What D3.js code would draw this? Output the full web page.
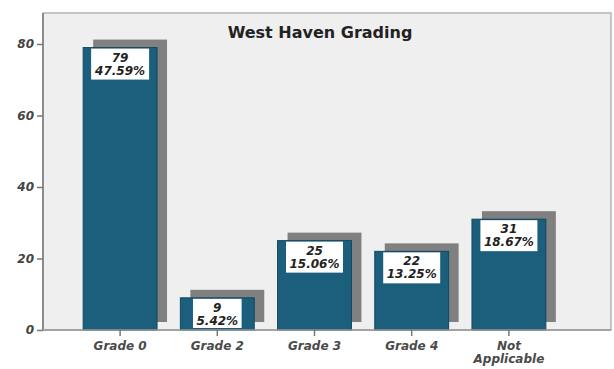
<!DOCTYPE html>
<html>
<head>
<meta charset="utf-8">
<script src="https://cdn.jsdelivr.net/npm/d3@7"></script>
<style>
  body { margin: 0; background: #fff; }
  svg { display: block; }
</style>
</head>
<body>
<svg id="chart" width="614" height="369"></svg>
<script>
// data
const categories = ['Grade 0', 'Grade 2', 'Grade 3', 'Grade 4', 'Not Applicable'];
const counts = [79, 9, 25, 22, 31];
const percents = ['47.59%', '5.42%', '15.06%', '13.25%', '18.67%'];
const yTicks = [0, 20, 40, 60, 80];
const title = 'West Haven Grading';

const svg = d3.select('#chart');
const font = '"DejaVu Sans", sans-serif';

// frame
const frame = { left: 43, top: 13, right: 611, bottom: 330 };
svg.append('rect')
  .attr('x', frame.left).attr('y', frame.top)
  .attr('width', frame.right - frame.left).attr('height', frame.bottom - frame.top)
  .attr('fill', '#efefef').attr('stroke', '#b4b4b4').attr('stroke-width', 1.5);

const x = d3.scaleBand().domain(categories)
  .range([71.5, 557.5]).paddingInner(0.24).paddingOuter(0.12);
const y = d3.scaleLinear().domain([0, 80]).range([330, 44]);

// shadows (offset right / up)
const shadowDx = 10;
const shadowDy = -8;
svg.append('g').selectAll('rect').data(counts).enter().append('rect')
  .attr('x', (d, i) => x(categories[i]) + shadowDx)
  .attr('y', d => y(d) + shadowDy)
  .attr('width', x.bandwidth())
  .attr('height', d => y(0) - y(d))
  .attr('fill', '#808080');

// bars
svg.append('g').selectAll('rect').data(counts).enter().append('rect')
  .attr('x', (d, i) => x(categories[i]))
  .attr('y', d => y(d))
  .attr('width', x.bandwidth())
  .attr('height', d => y(0) - y(d))
  .attr('fill', '#1c5f7d')
  .attr('stroke', '#124660')
  .attr('stroke-width', 1);

// value labels in white boxes
const labels = svg.append('g').selectAll('g').data(counts).enter().append('g');
labels.each(function (d, i) {
  const g = d3.select(this);
  const cx = x(categories[i]) + x.bandwidth() / 2;
  const top = y(d) + 1;
  const box = g.append('rect').attr('fill', '#fff');
  const t = g.append('text')
    .attr('text-anchor', 'middle')
    .attr('font-family', font).attr('font-size', 12)
    .attr('font-weight', 'bold').attr('font-style', 'italic')
    .attr('fill', '#222');
  t.append('tspan').attr('x', cx).attr('y', top + 13).text(d);
  t.append('tspan').attr('x', cx).attr('y', top + 26).text(percents[i]);
  const w = t.node().getBBox().width + 7;
  const h = Math.min(31, y(0) - top - 2);
  box.attr('x', cx - w / 2).attr('y', top).attr('width', w).attr('height', h);
});

// y axis
const yAxis = svg.append('g').attr('transform', `translate(${frame.left},0)`)
  .call(d3.axisLeft(y).tickValues(yTicks).tickSize(6).tickPadding(3));
yAxis.select('.domain').attr('stroke', '#8c8c8c').attr('stroke-width', 2)
  .attr('d', `M0,${frame.top}V${frame.bottom}`);
yAxis.selectAll('.tick line').attr('stroke', '#777').attr('stroke-width', 1.5);
yAxis.selectAll('.tick text')
  .attr('font-family', font).attr('font-size', 12)
  .attr('font-weight', 'bold').attr('font-style', 'italic').attr('fill', '#444');

// x axis
const xAxis = svg.append('g').attr('transform', `translate(0,${frame.bottom})`)
  .call(d3.axisBottom(x).tickSize(6).tickPadding(5));
xAxis.select('.domain').attr('stroke', '#999').attr('stroke-width', 1.5)
  .attr('d', `M${frame.left},0H${frame.right}`);
xAxis.selectAll('.tick line').attr('stroke', '#777').attr('stroke-width', 1.5);
xAxis.selectAll('.tick text')
  .attr('font-family', font).attr('font-size', 12)
  .attr('font-weight', 'bold').attr('font-style', 'italic').attr('fill', '#4a4a4a')
  .each(function (d) {
    const words = d === 'Not Applicable' ? ['Not', 'Applicable'] : [d];
    if (words.length > 1) {
      const el = d3.select(this).text(null);
      words.forEach((wd, k) => {
        el.append('tspan').attr('x', 0).attr('dy', k === 0 ? '0.71em' : '1.1em').text(wd);
      });
    }
  });

// title
svg.append('text')
  .attr('x', 320).attr('y', 38)
  .attr('text-anchor', 'middle')
  .attr('font-family', font).attr('font-size', 16).attr('font-weight', 'bold')
  .attr('fill', '#222')
  .text(title);
</script>
</body>
</html>
